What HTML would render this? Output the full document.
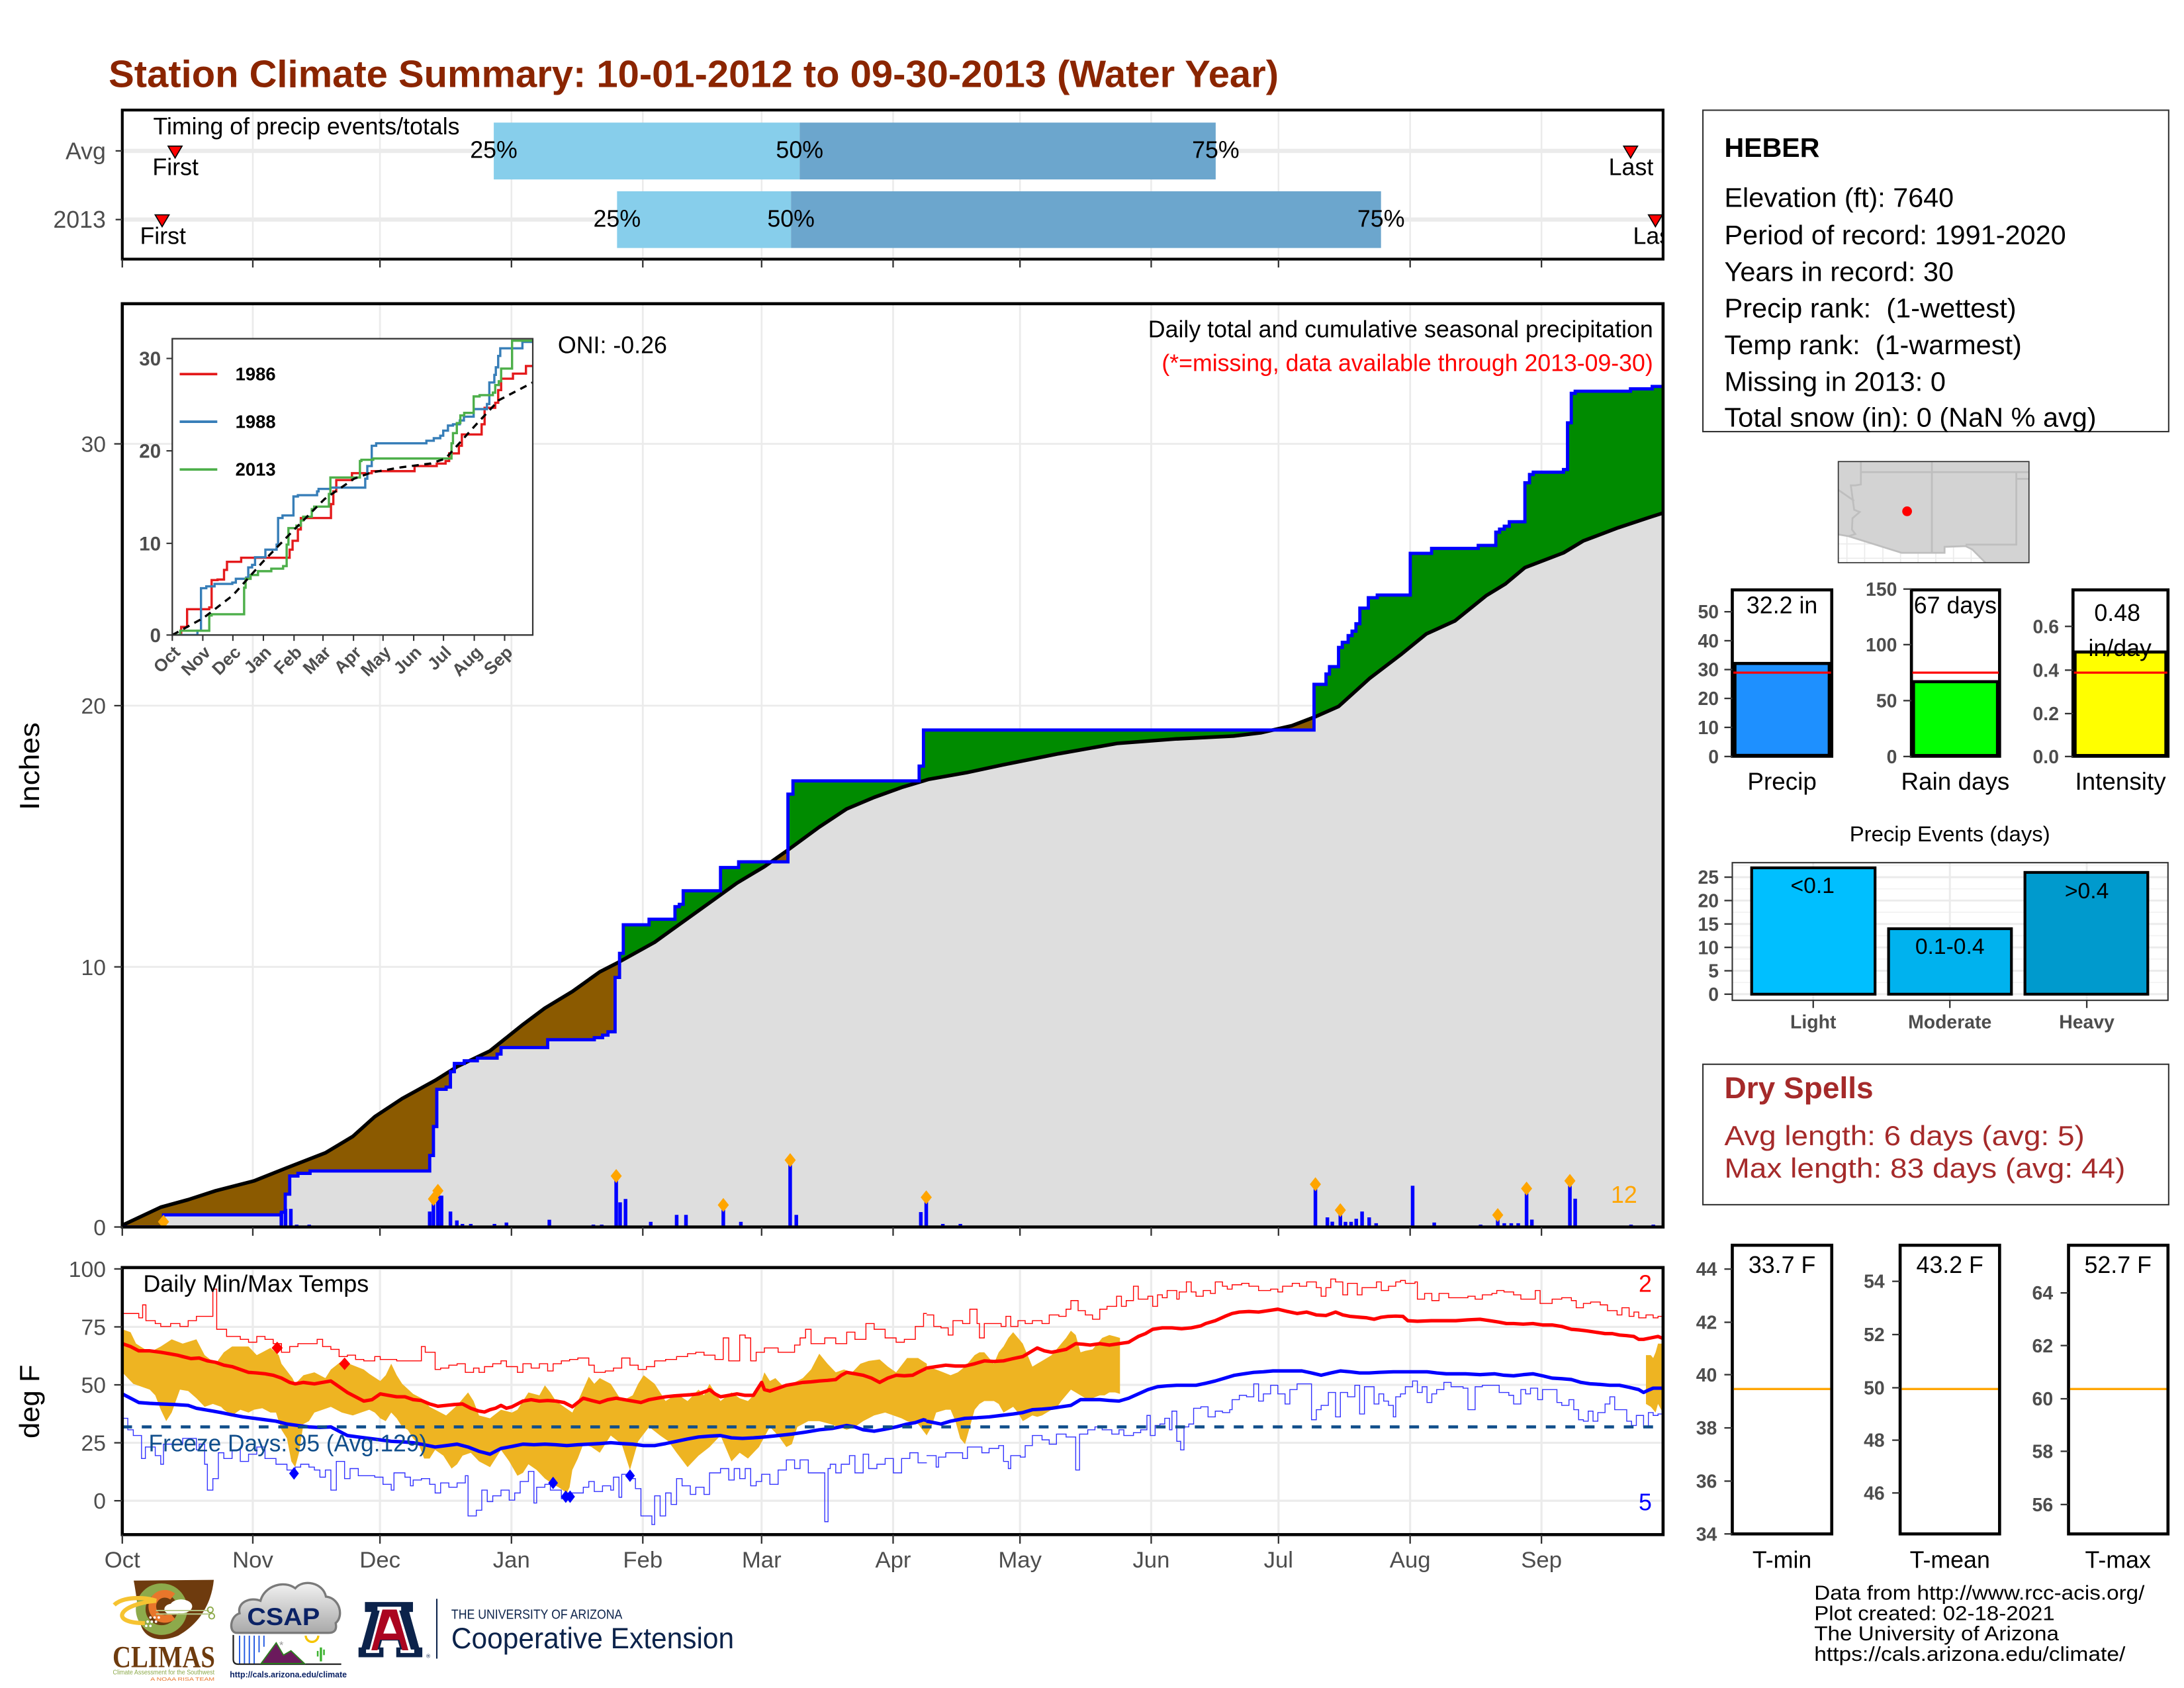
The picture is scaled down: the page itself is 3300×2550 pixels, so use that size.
<!DOCTYPE html>
<html><head><meta charset="utf-8"><title>Station Climate Summary</title>
<style>html,body{margin:0;padding:0;background:#fff;overflow:hidden}svg{display:block}</style></head>
<body>
<svg xmlns="http://www.w3.org/2000/svg" width="3300" height="2550" viewBox="0 0 1568 1211.6" preserveAspectRatio="none" font-family="'Liberation Sans', Arial, Helvetica, sans-serif">
<defs>
<clipPath id="cTiming"><rect x="87.8" y="79" width="1106.2" height="107"/></clipPath>
<clipPath id="cPrecip"><rect x="87.8" y="218" width="1106.2" height="662.7"/></clipPath>
<clipPath id="cTemp"><rect x="87.8" y="909.8" width="1106.2" height="191.7"/></clipPath>
<clipPath id="cInset"><rect x="123.7" y="243.1" width="258.8" height="212.7"/></clipPath>
<clipPath id="cMap"><rect x="1319.8" y="331.3" width="136.9" height="72.6"/></clipPath>
<clipPath id="cMex"><path d="M1319.8,383.6 L1327.2,384.9 L1365.3,396.8 L1396.1,396.8 L1396.1,392.5 L1411.2,392 L1416,394.4 L1425.5,403.9 L1319.8,403.9 Z"/></clipPath>
<clipPath id="c13"><path d="M87.8,880.7 H117.4 V872 H202 V870.1 H204.8 V857.1 H208 V844.1 H213.9 V842.2 H222.6 V840.5 H308.5 V829.4 H311.2 V808.6 H313.6 V781.9 H320.3 V780.3 H323.4 V769.2 H326.2 V763.3 H333.3 V761.4 H342.7 V759.5 H356.9 V756.6 H359.7 V751.9 H393.2 V746.3 H426.7 V744.8 H432.6 V743 H436.5 V740.6 H441.6 V738.9 V701.6 H444.8 V684.3 H447.5 V663.8 H466 V659.8 H484.6 V650.8 H487.7 V649.1 H490.5 V639.4 H517.3 V622.7 H530.3 V618.6 H565.7 V570 H569.3 V560.5 H659.9 V549.9 H663 V524 H943.4 V491.2 H952 V483.8 H954.5 V478.5 H961 V464.7 H963.7 V461 H967.9 V456.2 H970.7 V453 H973.5 V447.7 H976.3 V436.5 H982.4 V429 H988.8 V427.1 H1012.5 V397.2 H1027.8 V393.6 H1061.3 V391.5 H1073.9 V382 H1076.6 V379.8 H1080 V377.7 H1083.6 V374.5 H1094.8 V346.5 H1098.1 V340.6 H1100.8 V338.9 H1122.5 V337 H1125.4 V303.5 H1128.1 V282.3 H1130.9 V280.8 H1170.6 V279.1 H1186.2 V277.4 H1194 V880.7 Z"/></clipPath>
<linearGradient id="cloudG" x1="0" y1="0" x2="0" y2="1"><stop offset="0" stop-color="#f2f2f2"/><stop offset="1" stop-color="#a9a9a9"/></linearGradient>
</defs>

<rect x="0" y="0" width="1568" height="1211.6" fill="#fff"/>

<!-- Title -->
<text x="78" y="62.6" font-size="27.5" font-weight="bold" fill="#8B2500" textLength="840" lengthAdjust="spacingAndGlyphs">Station Climate Summary: 10-01-2012 to 09-30-2013 (Water Year)</text>

<!-- ================= Timing panel ================= -->
<rect x="87.8" y="79" width="1106.2" height="107" fill="#fff"/>
<g stroke="#EBEBEB" stroke-width="1.2">
<line x1="181.5" y1="79" x2="181.5" y2="186"/><line x1="272.8" y1="79" x2="272.8" y2="186"/><line x1="367.2" y1="79" x2="367.2" y2="186"/><line x1="461.5" y1="79" x2="461.5" y2="186"/><line x1="546.8" y1="79" x2="546.8" y2="186"/><line x1="641.2" y1="79" x2="641.2" y2="186"/><line x1="732.3" y1="79" x2="732.3" y2="186"/><line x1="826.5" y1="79" x2="826.5" y2="186"/><line x1="917.9" y1="79" x2="917.9" y2="186"/><line x1="1012.4" y1="79" x2="1012.4" y2="186"/><line x1="1106.7" y1="79" x2="1106.7" y2="186"/>
</g>
<line x1="87.8" y1="108.3" x2="1194" y2="108.3" stroke="#EBEBEB" stroke-width="3"/>
<line x1="87.8" y1="157.6" x2="1194" y2="157.6" stroke="#EBEBEB" stroke-width="3"/>
<rect x="354.5" y="88" width="219.6" height="40.8" fill="#87CEEB"/>
<rect x="574.1" y="88" width="298.7" height="40.8" fill="#6CA6CD"/>
<rect x="443" y="137.3" width="124.9" height="40.7" fill="#87CEEB"/>
<rect x="567.9" y="137.3" width="423.6" height="40.7" fill="#6CA6CD"/>
<g font-size="17" text-anchor="middle" fill="#000">
<text x="354.5" y="113.4">25%</text><text x="574.1" y="113.4">50%</text><text x="872.8" y="113.4">75%</text>
<text x="443" y="162.7">25%</text><text x="567.9" y="162.7">50%</text><text x="991.5" y="162.7">75%</text>
<text x="126" y="125.7">First</text><text x="117" y="175">First</text><text x="1171" y="125.7">Last</text>
</g>
<g clip-path="url(#cTiming)">
<text x="1188.5" y="175" font-size="17" text-anchor="middle">Last</text>
<polygon points="1183.5,154.2 1193.5,154.2 1188.5,162.7" fill="#FF0000" stroke="#000" stroke-width="0.8"/>
</g>
<polygon points="120.7,104.9 130.7,104.9 125.7,113.4" fill="#FF0000" stroke="#000" stroke-width="0.8"/>
<polygon points="1165.7,104.9 1175.7,104.9 1170.7,113.4" fill="#FF0000" stroke="#000" stroke-width="0.8"/>
<polygon points="111.4,154.2 121.4,154.2 116.4,162.7" fill="#FF0000" stroke="#000" stroke-width="0.8"/>
<text x="110" y="96.4" font-size="17" textLength="220" lengthAdjust="spacingAndGlyphs">Timing of precip events/totals</text>
<rect x="87.8" y="79" width="1106.2" height="107" fill="none" stroke="#000" stroke-width="2"/>
<g stroke="#333" stroke-width="1.1">
<line x1="83" y1="108.3" x2="87.8" y2="108.3"/><line x1="83" y1="157.6" x2="87.8" y2="157.6"/>
<line x1="87.8" y1="186" x2="87.8" y2="192"/><line x1="181.5" y1="186" x2="181.5" y2="192"/><line x1="272.8" y1="186" x2="272.8" y2="192"/><line x1="367.2" y1="186" x2="367.2" y2="192"/><line x1="461.5" y1="186" x2="461.5" y2="192"/><line x1="546.8" y1="186" x2="546.8" y2="192"/><line x1="641.2" y1="186" x2="641.2" y2="192"/><line x1="732.3" y1="186" x2="732.3" y2="192"/><line x1="826.5" y1="186" x2="826.5" y2="192"/><line x1="917.9" y1="186" x2="917.9" y2="192"/><line x1="1012.4" y1="186" x2="1012.4" y2="192"/><line x1="1106.7" y1="186" x2="1106.7" y2="192"/>
</g>
<text x="76" y="114.2" font-size="17" text-anchor="end" fill="#4D4D4D">Avg</text>
<text x="76" y="163.4" font-size="17" text-anchor="end" fill="#4D4D4D">2013</text>

<!-- ================= Precip panel ================= -->
<rect x="87.8" y="218" width="1106.2" height="662.7" fill="#fff"/>
<g stroke="#EBEBEB" stroke-width="1.3">
<line x1="181.5" y1="218" x2="181.5" y2="880.7"/><line x1="272.8" y1="218" x2="272.8" y2="880.7"/><line x1="367.2" y1="218" x2="367.2" y2="880.7"/><line x1="461.5" y1="218" x2="461.5" y2="880.7"/><line x1="546.8" y1="218" x2="546.8" y2="880.7"/><line x1="641.2" y1="218" x2="641.2" y2="880.7"/><line x1="732.3" y1="218" x2="732.3" y2="880.7"/><line x1="826.5" y1="218" x2="826.5" y2="880.7"/><line x1="917.9" y1="218" x2="917.9" y2="880.7"/><line x1="1012.4" y1="218" x2="1012.4" y2="880.7"/><line x1="1106.7" y1="218" x2="1106.7" y2="880.7"/>
<line x1="87.8" y1="694" x2="1194" y2="694"/><line x1="87.8" y1="506.5" x2="1194" y2="506.5"/><line x1="87.8" y1="318.6" x2="1194" y2="318.6"/>
</g>
<g clip-path="url(#cPrecip)">
<!-- green: area under 2013 -->
<path fill="#008B00" d="M87.8,880.7 H117.4 V872 H202 V870.1 H204.8 V857.1 H208 V844.1 H213.9 V842.2 H222.6 V840.5 H308.5 V829.4 H311.2 V808.6 H313.6 V781.9 H320.3 V780.3 H323.4 V769.2 H326.2 V763.3 H333.3 V761.4 H342.7 V759.5 H356.9 V756.6 H359.7 V751.9 H393.2 V746.3 H426.7 V744.8 H432.6 V743 H436.5 V740.6 H441.6 V738.9 V701.6 H444.8 V684.3 H447.5 V663.8 H466 V659.8 H484.6 V650.8 H487.7 V649.1 H490.5 V639.4 H517.3 V622.7 H530.3 V618.6 H565.7 V570 H569.3 V560.5 H659.9 V549.9 H663 V524 H943.4 V491.2 H952 V483.8 H954.5 V478.5 H961 V464.7 H963.7 V461 H967.9 V456.2 H970.7 V453 H973.5 V447.7 H976.3 V436.5 H982.4 V429 H988.8 V427.1 H1012.5 V397.2 H1027.8 V393.6 H1061.3 V391.5 H1073.9 V382 H1076.6 V379.8 H1080 V377.7 H1083.6 V374.5 H1094.8 V346.5 H1098.1 V340.6 H1100.8 V338.9 H1122.5 V337 H1125.4 V303.5 H1128.1 V282.3 H1130.9 V280.8 H1170.6 V279.1 H1186.2 V277.4 H1194 V880.7 Z"/>
<!-- brown: area under avg -->
<path id="avgArea" fill="#8B5A00" d="M87.8,880.7 L87.8,879.5 115.4,866.5 135.1,861.1 154.8,854.7 182.4,847.6 206,838.2 233.6,827.5 253.3,815.7 269.1,801.5 288.8,788.5 312.4,775.5 328.2,765.6 351.8,754.3 375.4,735.4 391.2,723.6 410.9,711.7 430.6,697.6 444.4,690.5 470,676.3 489.7,662.1 509.4,648 529.1,633.8 548.8,622 565.7,610.1 588.2,593.6 607.9,580.6 627.6,572.3 647.3,565.2 667,559.3 693.8,554.6 720,549 760,541 802,533.6 843.8,530.4 885.7,528.3 905,526 927.5,520.9 944.2,514.5 961,507.1 983.2,487 1005.5,470 1024,455 1044.6,445.6 1066.9,427.6 1080.8,419.1 1094.8,407.4 1122.5,396.8 1136.6,388.3 1161.7,378.8 1184,371.4 1194,368.2 L1194,880.7 Z"/>
<!-- gray: under min -->
<path clip-path="url(#c13)" fill="#DEDEDE" d="M87.8,880.7 L87.8,879.5 115.4,866.5 135.1,861.1 154.8,854.7 182.4,847.6 206,838.2 233.6,827.5 253.3,815.7 269.1,801.5 288.8,788.5 312.4,775.5 328.2,765.6 351.8,754.3 375.4,735.4 391.2,723.6 410.9,711.7 430.6,697.6 444.4,690.5 470,676.3 489.7,662.1 509.4,648 529.1,633.8 548.8,622 565.7,610.1 588.2,593.6 607.9,580.6 627.6,572.3 647.3,565.2 667,559.3 693.8,554.6 720,549 760,541 802,533.6 843.8,530.4 885.7,528.3 905,526 927.5,520.9 944.2,514.5 961,507.1 983.2,487 1005.5,470 1024,455 1044.6,445.6 1066.9,427.6 1080.8,419.1 1094.8,407.4 1122.5,396.8 1136.6,388.3 1161.7,378.8 1184,371.4 1194,368.2 L1194,880.7 Z"/>
<!-- daily bars -->
<g fill="#0000FF">
<rect x="116.1" y="878" width="2.6" height="2.7"/>
<rect x="200.7" y="870" width="2.6" height="10.7"/><rect x="203.7" y="867.7" width="2.6" height="13"/><rect x="207.5" y="867.7" width="2.6" height="13"/><rect x="211.7" y="879" width="2.6" height="1.7"/><rect x="220.7" y="879" width="2.6" height="1.7"/>
<rect x="307.2" y="869.6" width="2.6" height="11.1"/><rect x="309.9" y="860.6" width="2.6" height="20.1"/><rect x="313.1" y="855.9" width="2.6" height="24.8"/><rect x="315.7" y="858.2" width="2.6" height="22.5"/><rect x="322.1" y="869.6" width="2.6" height="11.1"/><rect x="326.7" y="876" width="2.6" height="4.7"/><rect x="330.7" y="878.5" width="2.6" height="2.2"/><rect x="336.7" y="878.5" width="2.6" height="2.2"/>
<rect x="353.7" y="878.5" width="2.6" height="2.2"/><rect x="362.3" y="877.5" width="2.6" height="3.2"/>
<rect x="393.1" y="875.5" width="2.6" height="5.2"/>
<rect x="424.7" y="879" width="2.6" height="1.7"/><rect x="430.7" y="879" width="2.6" height="1.7"/>
<rect x="441.1" y="844.1" width="2.6" height="36.6"/><rect x="443.9" y="863" width="2.6" height="17.7"/><rect x="447.8" y="860.6" width="2.6" height="20.1"/>
<rect x="465.9" y="877" width="2.6" height="3.7"/>
<rect x="484.5" y="872" width="2.6" height="8.7"/><rect x="491.2" y="872" width="2.6" height="8.7"/>
<rect x="518" y="864.9" width="2.6" height="15.8"/>
<rect x="530.6" y="877" width="2.6" height="3.7"/>
<rect x="566" y="832.7" width="2.6" height="48"/><rect x="570.4" y="872" width="2.6" height="8.7"/>
<rect x="659.8" y="870" width="2.6" height="10.7"/><rect x="663.7" y="859.4" width="2.6" height="21.3"/>
<rect x="675.6" y="878.5" width="2.6" height="2.2"/><rect x="688.2" y="878.5" width="2.6" height="2.2"/>
<rect x="943.1" y="852.1" width="2.6" height="28.6"/><rect x="951.7" y="873.8" width="2.6" height="6.9"/><rect x="955.2" y="876.9" width="2.6" height="3.8"/><rect x="961" y="870.7" width="2.6" height="10"/><rect x="964.7" y="877" width="2.6" height="3.7"/><rect x="968.7" y="877" width="2.6" height="3.7"/><rect x="972.4" y="874.8" width="2.6" height="5.9"/><rect x="976.6" y="869.6" width="2.6" height="11.1"/><rect x="981.7" y="873.8" width="2.6" height="6.9"/><rect x="986.7" y="878" width="2.6" height="2.7"/>
<rect x="1012.9" y="851.1" width="2.6" height="29.6"/><rect x="1028.4" y="877.5" width="2.6" height="3.2"/><rect x="1061.7" y="879" width="2.6" height="1.7"/><rect x="1074" y="874.8" width="2.6" height="5.9"/><rect x="1078.7" y="878" width="2.6" height="2.7"/><rect x="1083.7" y="878" width="2.6" height="2.7"/><rect x="1088.7" y="878" width="2.6" height="2.7"/><rect x="1094.7" y="856.2" width="2.6" height="24.5"/><rect x="1098.5" y="875.4" width="2.6" height="5.3"/><rect x="1125.8" y="851.1" width="2.6" height="29.6"/><rect x="1129.6" y="860.4" width="2.6" height="20.3"/><rect x="1169.7" y="879" width="2.6" height="1.7"/><rect x="1185.7" y="879" width="2.6" height="1.7"/>
</g>
<!-- avg line -->
<polyline fill="none" stroke="#000" stroke-width="2.6" stroke-linejoin="round" points="87.8,879.5 115.4,866.5 135.1,861.1 154.8,854.7 182.4,847.6 206,838.2 233.6,827.5 253.3,815.7 269.1,801.5 288.8,788.5 312.4,775.5 328.2,765.6 351.8,754.3 375.4,735.4 391.2,723.6 410.9,711.7 430.6,697.6 444.4,690.5 470,676.3 489.7,662.1 509.4,648 529.1,633.8 548.8,622 565.7,610.1 588.2,593.6 607.9,580.6 627.6,572.3 647.3,565.2 667,559.3 693.8,554.6 720,549 760,541 802,533.6 843.8,530.4 885.7,528.3 905,526 927.5,520.9 944.2,514.5 961,507.1 983.2,487 1005.5,470 1024,455 1044.6,445.6 1066.9,427.6 1080.8,419.1 1094.8,407.4 1122.5,396.8 1136.6,388.3 1161.7,378.8 1184,371.4 1194,368.2"/>
<!-- 2013 line -->
<path fill="none" stroke="#0000FF" stroke-width="2.3" d="M87.8,880.7 H117.4 V872 H202 V870.1 H204.8 V857.1 H208 V844.1 H213.9 V842.2 H222.6 V840.5 H308.5 V829.4 H311.2 V808.6 H313.6 V781.9 H320.3 V780.3 H323.4 V769.2 H326.2 V763.3 H333.3 V761.4 H342.7 V759.5 H356.9 V756.6 H359.7 V751.9 H393.2 V746.3 H426.7 V744.8 H432.6 V743 H436.5 V740.6 H441.6 V738.9 V701.6 H444.8 V684.3 H447.5 V663.8 H466 V659.8 H484.6 V650.8 H487.7 V649.1 H490.5 V639.4 H517.3 V622.7 H530.3 V618.6 H565.7 V570 H569.3 V560.5 H659.9 V549.9 H663 V524 H943.4 V491.2 H952 V483.8 H954.5 V478.5 H961 V464.7 H963.7 V461 H967.9 V456.2 H970.7 V453 H973.5 V447.7 H976.3 V436.5 H982.4 V429 H988.8 V427.1 H1012.5 V397.2 H1027.8 V393.6 H1061.3 V391.5 H1073.9 V382 H1076.6 V379.8 H1080 V377.7 H1083.6 V374.5 H1094.8 V346.5 H1098.1 V340.6 H1100.8 V338.9 H1122.5 V337 H1125.4 V303.5 H1128.1 V282.3 H1130.9 V280.8 H1170.6 V279.1 H1186.2 V277.4 H1194"/>
<!-- diamonds -->
<g fill="#FFA500">
<path d="M117.4,872 l4,5 l-4,5 l-4,-5 z"/><path d="M311.2,855.6 l4,5 l-4,5 l-4,-5 z"/><path d="M314.4,849.7 l4,5 l-4,5 l-4,-5 z"/><path d="M442.4,839.1 l4,5 l-4,5 l-4,-5 z"/><path d="M519.3,859.9 l4,5 l-4,5 l-4,-5 z"/><path d="M567.3,827.7 l4,5 l-4,5 l-4,-5 z"/><path d="M665,854.4 l4,5 l-4,5 l-4,-5 z"/><path d="M944.4,845 l4,5 l-4,5 l-4,-5 z"/><path d="M962.3,863.6 l4,5 l-4,5 l-4,-5 z"/><path d="M1075.3,867.1 l4,5 l-4,5 l-4,-5 z"/><path d="M1096,848.1 l4,5 l-4,5 l-4,-5 z"/><path d="M1127.1,842.6 l4,5 l-4,5 l-4,-5 z"/>
</g>
</g>
<text x="1186.8" y="242" font-size="17" text-anchor="end" textLength="362.5" lengthAdjust="spacingAndGlyphs">Daily total and cumulative seasonal precipitation</text>
<text x="1186.8" y="266.4" font-size="17" text-anchor="end" fill="#FF0000" textLength="352.7" lengthAdjust="spacingAndGlyphs">(*=missing, data available through 2013-09-30)</text>
<text x="400.5" y="253.6" font-size="17">ONI: -0.26</text>
<text x="1156.5" y="863.4" font-size="17" fill="#FFA500">12</text>

<!-- Inset -->
<rect x="123.7" y="243.1" width="258.8" height="212.7" fill="#fff" stroke="#333" stroke-width="1"/>
<g clip-path="url(#cInset)">
<g transform="translate(76,209.1) scale(0.2121,0.1818)" fill="none">
<path vector-effect="non-scaling-stroke" stroke="#E41A1C" stroke-width="3.4" d="M225,1357 H255 V1325 H275 V1255 H350 V1248 H358 V1140 H378 V1138 H400 V1100 H410 V1068 H458 V1052 H622 V1020 H632 V985 H650 V940 H660 V895 H762 V840 H770 V790 H780 V745 H833 V718 H900 V710 H1045 V690 H1120 V680 H1150 V670 H1162 V640 H1195 V610 H1205 V565 H1272 V525 H1282 V460 H1318 V440 H1328 V390 H1338 V345 H1378 V325 H1422 V295 H1450"/>
<path vector-effect="non-scaling-stroke" stroke="#377EB8" stroke-width="3.4" d="M225,1357 H310 V1340 H322 V1172 H340 V1165 H368 V1155 H428 V1150 H440 V1135 H475 V1130 H482 V1090 H495 V1080 H505 V1050 H540 V1020 H578 V1000 H583 V895 H598 V885 H635 V810 H650 V805 H715 V790 H720 V780 H760 V775 H878 V740 H885 V690 H900 V610 H915 V600 H1085 V590 H1110 V580 H1132 V570 H1142 V550 H1158 V530 H1175 V525 H1198 V510 H1212 V495 H1245 V465 H1290 V445 H1298 V360 H1315 V330 H1320 V300 H1328 V255 H1335 V225 H1410 V200 H1450"/>
<path vector-effect="non-scaling-stroke" stroke="#4DAF4A" stroke-width="3.4" d="M225,1357 H252 V1340 H350 V1280 H358 V1275 H468 V1170 H473 V1135 H490 V1120 H515 V1105 H560 V1095 H600 V1085 H612 V1000 H618 V935 H645 V925 H660 V905 H668 V890 H697 V860 H705 V850 H755 V800 H760 V735 H860 V670 H865 V665 H905 V660 H1170 V600 H1175 V560 H1188 V520 H1200 V490 H1213 V480 H1245 V415 H1265 V410 H1310 V400 H1318 V370 H1330 V355 H1338 V305 H1375 V195 H1450"/>
</g>
<polyline fill="none" stroke="#000" stroke-width="1.6" stroke-dasharray="5,4" points="123.7,455.8 146,443.6 167.2,427.3 188.4,403.6 209.6,381.8 233,358.2 254.2,343.6 266.9,339.1 288.1,335.4 309.3,332.7 319.9,329.1 341.1,305.5 358.1,287.3 382.5,274.5"/>
</g>
<rect x="123.7" y="243.1" width="258.8" height="212.7" fill="none" stroke="#333" stroke-width="1"/>
<line x1="129" y1="268.5" x2="156" y2="268.5" stroke="#E41A1C" stroke-width="1.8"/>
<line x1="129" y1="302.7" x2="156" y2="302.7" stroke="#377EB8" stroke-width="1.8"/>
<line x1="129" y1="337" x2="156" y2="337" stroke="#4DAF4A" stroke-width="1.8"/>
<g font-size="13" font-weight="bold"><text x="169" y="273">1986</text><text x="169" y="307.2">1988</text><text x="169" y="341.5">2013</text></g>
<g stroke="#333" stroke-width="1">
<line x1="119.5" y1="257.3" x2="123.7" y2="257.3"/><line x1="119.5" y1="323.6" x2="123.7" y2="323.6"/><line x1="119.5" y1="390" x2="123.7" y2="390"/><line x1="119.5" y1="455.8" x2="123.7" y2="455.8"/>
<line x1="123.7" y1="455.8" x2="123.7" y2="460"/><line x1="145.6" y1="455.8" x2="145.6" y2="460"/><line x1="167.2" y1="455.8" x2="167.2" y2="460"/><line x1="189.1" y1="455.8" x2="189.1" y2="460"/><line x1="211.1" y1="455.8" x2="211.1" y2="460"/><line x1="231.9" y1="455.8" x2="231.9" y2="460"/><line x1="253.8" y1="455.8" x2="253.8" y2="460"/><line x1="275" y1="455.8" x2="275" y2="460"/><line x1="297" y1="455.8" x2="297" y2="460"/><line x1="318.4" y1="455.8" x2="318.4" y2="460"/><line x1="340.5" y1="455.8" x2="340.5" y2="460"/><line x1="362.3" y1="455.8" x2="362.3" y2="460"/>
</g>
<g font-size="14" font-weight="bold" fill="#4D4D4D" text-anchor="end">
<text x="115.5" y="262.3">30</text><text x="115.5" y="328.6">20</text><text x="115.5" y="395">10</text><text x="115.5" y="460.8">0</text>
</g>
<g font-size="12.5" font-weight="bold" fill="#4D4D4D" text-anchor="end">
<text transform="translate(130.1,469) rotate(-45)">Oct</text>
<text transform="translate(152,469) rotate(-45)">Nov</text>
<text transform="translate(173.6,469) rotate(-45)">Dec</text>
<text transform="translate(195.5,469) rotate(-45)">Jan</text>
<text transform="translate(217.5,469) rotate(-45)">Feb</text>
<text transform="translate(238.3,469) rotate(-45)">Mar</text>
<text transform="translate(260.2,469) rotate(-45)">Apr</text>
<text transform="translate(281.4,469) rotate(-45)">May</text>
<text transform="translate(303.4,469) rotate(-45)">Jun</text>
<text transform="translate(324.8,469) rotate(-45)">Jul</text>
<text transform="translate(346.9,469) rotate(-45)">Aug</text>
<text transform="translate(368.7,469) rotate(-45)">Sep</text>
</g>

<rect x="87.8" y="218" width="1106.2" height="662.7" fill="none" stroke="#000" stroke-width="2.2"/>
<g stroke="#333" stroke-width="1.1">
<line x1="82" y1="880.7" x2="87.8" y2="880.7"/><line x1="82" y1="694" x2="87.8" y2="694"/><line x1="82" y1="506.5" x2="87.8" y2="506.5"/><line x1="82" y1="318.6" x2="87.8" y2="318.6"/>
<line x1="87.8" y1="880.7" x2="87.8" y2="887"/><line x1="181.5" y1="880.7" x2="181.5" y2="887"/><line x1="272.8" y1="880.7" x2="272.8" y2="887"/><line x1="367.2" y1="880.7" x2="367.2" y2="887"/><line x1="461.5" y1="880.7" x2="461.5" y2="887"/><line x1="546.8" y1="880.7" x2="546.8" y2="887"/><line x1="641.2" y1="880.7" x2="641.2" y2="887"/><line x1="732.3" y1="880.7" x2="732.3" y2="887"/><line x1="826.5" y1="880.7" x2="826.5" y2="887"/><line x1="917.9" y1="880.7" x2="917.9" y2="887"/><line x1="1012.4" y1="880.7" x2="1012.4" y2="887"/><line x1="1106.7" y1="880.7" x2="1106.7" y2="887"/>
</g>
<g font-size="16" fill="#4D4D4D" text-anchor="end">
<text x="76" y="886.5">0</text><text x="76" y="699.8">10</text><text x="76" y="512.3">20</text><text x="76" y="324.4">30</text>
</g>
<text transform="translate(28,550) rotate(-90)" font-size="20" text-anchor="middle" textLength="63" lengthAdjust="spacingAndGlyphs">Inches</text>

<!-- ================= Temperature panel ================= -->
<rect x="87.8" y="909.8" width="1106.2" height="191.7" fill="#fff"/>
<g stroke="#EBEBEB" stroke-width="1.5">
<line x1="181.5" y1="909.8" x2="181.5" y2="1101.5"/><line x1="272.8" y1="909.8" x2="272.8" y2="1101.5"/><line x1="367.2" y1="909.8" x2="367.2" y2="1101.5"/><line x1="461.5" y1="909.8" x2="461.5" y2="1101.5"/><line x1="546.8" y1="909.8" x2="546.8" y2="1101.5"/><line x1="641.2" y1="909.8" x2="641.2" y2="1101.5"/><line x1="732.3" y1="909.8" x2="732.3" y2="1101.5"/><line x1="826.5" y1="909.8" x2="826.5" y2="1101.5"/><line x1="917.9" y1="909.8" x2="917.9" y2="1101.5"/><line x1="1012.4" y1="909.8" x2="1012.4" y2="1101.5"/><line x1="1106.7" y1="909.8" x2="1106.7" y2="1101.5"/>
<line x1="87.8" y1="1077.2" x2="1194" y2="1077.2"/><line x1="87.8" y1="1035.6" x2="1194" y2="1035.6"/><line x1="87.8" y1="994" x2="1194" y2="994"/><line x1="87.8" y1="952.4" x2="1194" y2="952.4"/><line x1="87.8" y1="910.8" x2="1194" y2="910.8"/>
</g>
<g clip-path="url(#cTemp)">
<g transform="translate(76,807.8) scale(0.394,0.2061)">
<polygon fill="#EEB422" points="30,710 45,720 55,760 80,790 100,770 120,745 140,760 165,745 180,800 200,830 215,790 230,770 260,770 275,800 285,790 300,775 315,800 320,830 340,880 345,900 360,870 380,860 400,880 410,850 430,820 450,835 470,850 480,865 500,890 510,870 520,830 530,870 540,900 560,935 575,950 590,980 610,1000 620,1010 640,975 660,930 670,960 680,1010 700,1020 720,990 740,1000 750,990 770,930 790,940 800,905 810,930 820,960 835,980 850,1000 865,940 880,875 890,900 900,880 920,900 940,960 960,940 970,900 980,870 1000,900 1010,930 1020,960 1040,935 1060,960 1080,920 1090,940 1100,900 1120,960 1140,930 1155,950 1170,960 1190,920 1200,860 1210,890 1220,880 1235,910 1250,900 1270,880 1285,850 1300,795 1315,830 1330,860 1345,850 1360,860 1375,830 1390,820 1410,815 1425,840 1440,860 1460,810 1480,810 1496,830 1496,1080 1480,1040 1460,1030 1450,1020 1420,1000 1400,1010 1380,1030 1365,1050 1350,1060 1320,1040 1300,1030 1280,1030 1260,1050 1250,1110 1240,1120 1225,1080 1210,1050 1190,1120 1170,1160 1155,1140 1140,1170 1120,1080 1100,1120 1080,1150 1060,1190 1040,1140 1025,1100 1010,1080 990,1050 970,1100 955,1200 940,1110 920,1080 900,1140 885,1120 870,1110 860,1160 850,1200 845,1260 840,1280 825,1260 815,1250 800,1230 785,1200 770,1180 760,1210 750,1220 735,1170 720,1130 710,1160 700,1190 680,1170 665,1140 650,1150 640,1180 630,1195 615,1150 600,1130 590,1160 580,1160 570,1110 560,1090 550,1060 540,1050 530,1020 520,1000 510,1030 500,1020 490,1000 480,990 465,1000 450,1010 430,1000 410,980 395,990 380,1000 370,1030 360,1040 352,1140 345,1190 338,1170 330,1090 320,1060 310,1000 300,1000 285,985 270,990 260,1000 245,990 230,1010 215,990 210,980 195,970 180,980 170,960 165,950 150,925 135,920 120,1000 110,1030 100,990 90,940 80,920 65,910 50,900 40,880 30,860"/>
<path fill="none" vector-effect="non-scaling-stroke" stroke="#FF0000" stroke-width="1.4" d="M30,655 H60 V670 H67 V625 H73 V680 H90 V690 H100 V700 H118 V690 H135 V700 H150 V680 H165 V665 H195 V570 H202 V710 H220 V735 H245 V745 H260 V755 H275 V735 H290 V745 H305 V760 H320 V790 H335 V770 H350 V760 H385 V745 H395 V770 H410 V780 H425 V805 H440 V800 H455 V815 H470 V820 H490 V805 H500 V815 H530 V820 H575 V770 H582 V790 H600 V850 H610 V845 H625 V835 H640 V830 H655 V860 H670 V845 H680 V860 H690 V840 H705 V830 H720 V820 H730 V840 H750 V860 H760 V830 H775 V845 H790 V830 H805 V855 H815 V830 H830 V820 H845 V815 H860 V810 H880 V835 H890 V860 H910 V855 H925 V845 H940 V810 H955 V835 H970 V850 H985 V840 H1000 V820 H1020 V815 H1040 V805 H1060 V795 H1075 V790 H1090 V800 H1110 V815 H1125 V740 H1135 V820 H1145 V820 H1155 V730 H1165 V740 H1175 V820 H1185 V790 H1200 V775 H1225 V790 H1240 V790 H1255 V765 H1265 V740 H1275 V710 H1285 V760 H1310 V740 H1330 V760 H1350 V720 H1365 V745 H1385 V690 H1400 V710 H1420 V740 H1440 V755 H1455 V745 H1475 V700 H1490 V655 H1496"/>
<path fill="none" vector-effect="non-scaling-stroke" stroke="#3333FF" stroke-width="1.4" d="M30,1020 H40 V1060 H50 V1080 H65 V1160 H72 V1120 H90 V1150 H100 V1180 H105 V1110 H140 V1090 H165 V1130 H170 V1110 H180 V1180 H185 V1270 H195 V1230 H205 V1140 H215 V1160 H230 V1130 H245 V1170 H260 V1145 H275 V1120 H290 V1160 H310 V1180 H330 V1200 H345 V1190 H355 V1180 H370 V1190 H380 V1200 H390 V1225 H400 V1200 H410 V1270 H420 V1170 H435 V1230 H445 V1195 H460 V1220 H490 V1225 H505 V1250 H520 V1270 H525 V1210 H545 V1225 H555 V1255 H560 V1235 H575 V1230 H590 V1250 H600 V1280 H610 V1245 H625 V1260 H640 V1245 H655 V1220 H660 V1360 H675 V1340 H685 V1270 H695 V1310 H705 V1290 H720 V1270 H735 V1305 H745 V1280 H755 V1240 H770 V1205 H780 V1315 H785 V1260 H800 V1250 H810 V1270 H830 V1300 H840 V1280 H855 V1280 H870 V1260 H880 V1240 H890 V1275 H905 V1255 H920 V1270 H925 V1225 H935 V1295 H940 V1215 H955 V1230 H965 V1265 H975 V1360 H985 V1360 H995 V1390 H1000 V1290 H1010 V1360 H1020 V1280 H1030 V1320 H1040 V1230 H1050 V1255 H1065 V1285 H1075 V1260 H1090 V1285 H1100 V1210 H1120 V1195 H1135 V1235 H1145 V1195 H1155 V1230 H1165 V1195 H1175 V1255 H1185 V1240 H1195 V1215 H1210 V1250 H1225 V1200 H1240 V1165 H1255 V1195 H1265 V1165 H1280 V1210 H1310 V1380 H1316 V1195 H1320 V1180 H1330 V1210 H1340 V1180 H1355 V1150 H1365 V1210 H1380 V1145 H1390 V1195 H1405 V1180 H1420 V1160 H1435 V1210 H1450 V1160 H1465 V1140 H1480 V1175 H1496"/>
<polyline fill="none" vector-effect="non-scaling-stroke" stroke="#FF0000" stroke-width="5.2" stroke-linejoin="round" points="30,760 45,770 60,785 80,785 100,790 115,795 130,800 140,805 155,812 170,810 185,820 200,825 215,835 230,840 245,850 260,860 275,862 290,865 305,870 320,880 335,895 345,900 360,895 380,900 395,895 410,890 425,910 440,930 455,945 470,960 485,955 500,935 515,940 530,945 545,945 560,955 575,958 590,970 605,978 620,975 635,972 650,970 665,985 680,995 690,998 700,990 710,985 720,975 730,985 740,980 750,970 760,960 775,955 790,960 805,958 820,960 835,965 850,980 860,965 870,950 885,958 900,965 915,955 930,950 945,955 960,960 975,965 990,955 1005,950 1020,945 1035,942 1050,940 1065,938 1080,935 1095,925 1100,920 1110,935 1120,945 1135,940 1150,935 1165,940 1180,940 1190,910 1195,895 1200,920 1210,925 1225,915 1240,905 1255,900 1270,895 1285,893 1300,890 1315,888 1330,885 1340,870 1350,860 1365,865 1380,870 1395,880 1410,895 1425,880 1440,870 1455,872 1470,870 1480,860 1496,845"/>
<polyline fill="none" vector-effect="non-scaling-stroke" stroke="#0000FF" stroke-width="5.2" stroke-linejoin="round" points="30,935 45,950 60,965 80,968 100,970 125,972 150,975 165,985 180,990 195,995 210,1000 230,1008 250,1015 270,1020 290,1025 310,1030 330,1040 350,1045 370,1050 390,1052 410,1050 425,1065 440,1080 460,1085 480,1090 500,1095 520,1100 540,1102 560,1105 580,1112 600,1120 620,1115 640,1110 660,1120 680,1135 690,1140 700,1145 710,1135 720,1125 740,1118 760,1110 780,1112 800,1110 820,1112 840,1115 860,1112 880,1110 900,1108 920,1105 940,1108 960,1110 980,1115 1000,1115 1020,1108 1040,1100 1060,1092 1080,1085 1100,1082 1120,1080 1140,1088 1160,1090 1180,1088 1200,1085 1225,1080 1250,1075 1275,1068 1300,1060 1325,1055 1350,1045 1365,1050 1380,1060 1400,1065 1420,1058 1440,1050 1460,1040 1475,1035 1490,1025 1496,1028"/>
</g>
<g transform="translate(665.2,807.8) scale(0.3455,0.2061)">
<polygon fill="#EEB422" points="0,840 10,845 20,850 35,860 50,870 65,860 80,840 90,820 100,800 110,790 120,790 130,810 140,830 150,790 160,770 170,740 180,720 190,740 200,760 210,800 220,840 230,830 240,820 250,810 260,800 270,780 280,760 290,740 300,715 310,730 320,790 330,785 345,780 355,760 365,740 380,730 392,735 402,740 402,935 392,930 380,930 370,940 360,940 345,950 340,960 330,950 320,940 310,930 300,920 290,940 280,960 270,985 260,990 250,1000 240,1010 230,1015 220,1010 210,1020 200,1030 190,1000 180,980 170,990 160,1000 150,970 140,960 130,960 120,960 110,970 100,990 90,1050 80,1110 70,1090 60,1030 50,990 40,990 30,995 20,1000 10,1050 0,1080"/>
<polygon fill="#EEB422" points="1495,800 1505,800 1510,810 1515,790 1520,760 1530,760 1530,1000 1520,970 1515,1000 1505,980 1495,970"/>
<path fill="none" vector-effect="non-scaling-stroke" stroke="#FF0000" stroke-width="1.4" d="M0,660 H15 V700 H30 V705 H45 V730 H55 V680 H75 V690 H90 V640 H105 V690 H110 V740 H120 V690 H155 V700 H165 V665 H175 V700 H190 V680 H205 V690 H220 V680 H240 V690 H255 V660 H275 V665 H290 V640 H300 V610 H315 V645 H330 V660 H345 V675 H360 V640 H375 V630 H395 V595 H405 V630 H415 V610 H430 V560 H440 V605 H460 V595 H470 V630 H480 V590 H490 V600 H500 V575 H520 V605 H525 V580 H540 V545 H550 V580 H560 V595 H575 V575 H590 V585 H600 V545 H615 V560 H625 V570 H635 V555 H655 V550 H670 V560 H690 V575 H715 V570 H730 V580 H740 V560 H760 V550 H775 V560 H790 V545 H810 V565 H820 V595 H830 V565 H840 V535 H850 V545 H865 V590 H875 V550 H895 V590 H905 V565 H935 V545 H945 V575 H960 V560 H975 V545 H985 V540 H995 V550 H1015 V545 H1020 V605 H1035 V585 H1050 V610 H1065 V585 H1085 V600 H1110 V600 H1125 V595 H1140 V605 H1155 V590 H1175 V585 H1185 V575 H1200 V580 H1220 V590 H1235 V605 H1265 V575 H1275 V620 H1285 V620 H1300 V605 H1320 V600 H1340 V610 H1350 V635 H1365 V620 H1380 V615 H1400 V625 H1415 V645 H1435 V660 H1445 V635 H1460 V665 H1470 V650 H1480 V670 H1495 V660 H1510 V670 H1520 V665 H1535"/>
<path fill="none" vector-effect="non-scaling-stroke" stroke="#3333FF" stroke-width="1.4" d="M0,1150 H20 V1190 H25 V1155 H40 V1140 H75 V1160 H85 V1120 H115 V1140 H130 V1125 H150 V1115 H160 V1170 H170 V1195 H175 V1150 H195 V1155 H205 V1115 H220 V1080 H240 V1095 H255 V1110 H270 V1075 H290 V1085 H305 V1085 H310 V1200 H318 V1075 H335 V1060 H350 V1050 H365 V1060 H385 V1075 H400 V1060 H410 V1080 H430 V1070 H445 V1060 H458 V1010 H465 V1080 H475 V1045 H485 V1040 H495 V1020 H505 V1060 H510 V995 H520 V1100 H528 V1130 H535 V1050 H545 V1040 H555 V985 H570 V980 H585 V1015 H600 V995 H615 V1000 H630 V990 H635 V955 H650 V940 H665 V945 H680 V900 H690 V960 H700 V935 H715 V905 H730 V935 H745 V970 H755 V920 H770 V900 H795 V900 H800 V1025 H810 V990 H820 V975 H835 V930 H850 V1015 H860 V930 H875 V945 H890 V905 H900 V1005 H910 V910 H930 V970 H940 V935 H950 V960 H960 V975 H970 V1015 H975 V945 H985 V935 H995 V910 H1010 V890 H1020 V930 H1030 V910 H1040 V965 H1050 V935 H1060 V920 H1075 V895 H1090 V910 H1100 V910 H1115 V915 H1125 V990 H1140 V910 H1155 V905 H1175 V905 H1190 V930 H1210 V940 H1220 V970 H1235 V920 H1245 V935 H1255 V915 H1270 V955 H1280 V920 H1295 V920 H1310 V965 H1320 V975 H1335 V955 H1345 V990 H1355 V1025 H1365 V1030 H1375 V995 H1385 V1030 H1395 V1000 H1410 V970 H1420 V945 H1430 V990 H1445 V990 H1455 V1030 H1465 V1045 H1475 V1010 H1490 V1050 H1500 V1000 H1510 V1010 H1520 V1005 H1535"/>
<polyline fill="none" vector-effect="non-scaling-stroke" stroke="#FF0000" stroke-width="5.2" stroke-linejoin="round" points="0,845 20,840 40,835 60,838 80,838 100,830 120,820 140,822 160,820 180,812 200,805 215,790 230,775 245,785 260,790 275,785 290,780 300,770 310,760 325,762 340,765 360,760 380,765 400,760 420,755 430,745 440,735 455,725 470,710 490,705 510,705 530,708 550,705 570,698 580,690 600,680 620,665 635,655 650,650 670,648 690,650 710,645 730,640 750,648 770,655 790,650 810,660 830,662 850,650 865,660 880,665 900,668 915,670 930,675 945,668 960,665 975,664 990,665 1000,680 1020,682 1050,680 1075,680 1100,680 1125,677 1150,675 1170,680 1190,685 1205,690 1220,690 1240,692 1260,690 1280,695 1300,695 1320,700 1340,710 1355,712 1370,715 1390,720 1410,725 1425,725 1440,730 1455,732 1470,735 1480,745 1490,745 1505,740 1520,735 1535,745"/>
<polyline fill="none" vector-effect="non-scaling-stroke" stroke="#0000FF" stroke-width="5.2" stroke-linejoin="round" points="0,1030 15,1035 30,1040 50,1030 80,1020 105,1018 130,1015 155,1010 180,1005 200,1000 220,990 240,988 260,985 280,980 300,975 310,965 320,955 340,955 360,955 380,958 400,960 420,950 440,935 460,920 480,910 500,907 520,905 540,905 560,905 580,898 600,890 620,880 640,870 660,865 680,860 700,858 720,855 750,855 780,855 800,862 820,870 840,862 860,855 880,858 900,862 920,862 940,860 970,858 1000,858 1040,858 1060,862 1080,865 1100,865 1120,865 1150,868 1180,865 1200,870 1220,872 1240,868 1260,865 1280,872 1300,880 1320,882 1340,885 1360,895 1380,900 1400,902 1420,905 1440,905 1460,912 1480,920 1490,930 1500,922 1510,915 1535,915"/>
</g>
<line x1="87.8" y1="1024.2" x2="1194" y2="1024.2" stroke="#104E8B" stroke-width="2.2" stroke-dasharray="7,7"/>
<g fill="#FF0000"><path d="M199,963 l4,4.5 l-4,4.5 l-4,-4.5 z"/><path d="M247.4,974.4 l4,4.5 l-4,4.5 l-4,-4.5 z"/></g>
<g fill="#0000FF"><path d="M211.1,1053.1 l3.5,4.5 l-3.5,4.5 l-3.5,-4.5 z"/><path d="M397.1,1059.9 l3.5,4.5 l-3.5,4.5 l-3.5,-4.5 z"/><path d="M406.2,1069.8 l3.5,4.5 l-3.5,4.5 l-3.5,-4.5 z"/><path d="M409.3,1069.8 l3.5,4.5 l-3.5,4.5 l-3.5,-4.5 z"/><path d="M452.3,1054.7 l3.5,4.5 l-3.5,4.5 l-3.5,-4.5 z"/></g>
</g>
<text x="102.8" y="927.3" font-size="17" textLength="162" lengthAdjust="spacingAndGlyphs">Daily Min/Max Temps</text>
<text x="106.7" y="1041.7" font-size="17" fill="#104E8B" textLength="199.8" lengthAdjust="spacingAndGlyphs">Freeze Days: 95 (Avg:129)</text>
<text x="1176.5" y="927.3" font-size="17" fill="#FF0000">2</text>
<text x="1176.5" y="1084" font-size="17" fill="#0000FF">5</text>
<rect x="87.8" y="909.8" width="1106.2" height="191.7" fill="none" stroke="#000" stroke-width="2.2"/>
<g stroke="#333" stroke-width="1.1">
<line x1="82" y1="1077.2" x2="87.8" y2="1077.2"/><line x1="82" y1="1035.6" x2="87.8" y2="1035.6"/><line x1="82" y1="994" x2="87.8" y2="994"/><line x1="82" y1="952.4" x2="87.8" y2="952.4"/><line x1="82" y1="910.8" x2="87.8" y2="910.8"/>
<line x1="87.8" y1="1101.5" x2="87.8" y2="1108"/><line x1="181.5" y1="1101.5" x2="181.5" y2="1108"/><line x1="272.8" y1="1101.5" x2="272.8" y2="1108"/><line x1="367.2" y1="1101.5" x2="367.2" y2="1108"/><line x1="461.5" y1="1101.5" x2="461.5" y2="1108"/><line x1="546.8" y1="1101.5" x2="546.8" y2="1108"/><line x1="641.2" y1="1101.5" x2="641.2" y2="1108"/><line x1="732.3" y1="1101.5" x2="732.3" y2="1108"/><line x1="826.5" y1="1101.5" x2="826.5" y2="1108"/><line x1="917.9" y1="1101.5" x2="917.9" y2="1108"/><line x1="1012.4" y1="1101.5" x2="1012.4" y2="1108"/><line x1="1106.7" y1="1101.5" x2="1106.7" y2="1108"/>
</g>
<g font-size="16" fill="#4D4D4D" text-anchor="end">
<text x="76" y="1082.9">0</text><text x="76" y="1041.3">25</text><text x="76" y="999.7">50</text><text x="76" y="958.1">75</text><text x="76" y="916.5">100</text>
</g>
<g font-size="16.5" fill="#4D4D4D" text-anchor="middle">
<text x="87.8" y="1125.2">Oct</text><text x="181.5" y="1125.2">Nov</text><text x="272.8" y="1125.2">Dec</text><text x="367.2" y="1125.2">Jan</text><text x="461.5" y="1125.2">Feb</text><text x="546.8" y="1125.2">Mar</text><text x="641.2" y="1125.2">Apr</text><text x="732.3" y="1125.2">May</text><text x="826.5" y="1125.2">Jun</text><text x="917.9" y="1125.2">Jul</text><text x="1012.4" y="1125.2">Aug</text><text x="1106.7" y="1125.2">Sep</text>
</g>
<text transform="translate(28,1006) rotate(-90)" font-size="20" text-anchor="middle" textLength="53" lengthAdjust="spacingAndGlyphs">deg F</text>

<!-- ================= Right side ================= -->
<rect x="1222.6" y="79.1" width="334.4" height="230.7" fill="#fff" stroke="#333" stroke-width="1"/>
<text x="1238" y="112.5" font-size="19.5" font-weight="bold" textLength="68.4" lengthAdjust="spacingAndGlyphs">HEBER</text>
<g font-size="19.5" style="white-space:pre">
<text x="1238" y="148.6" textLength="164.7" lengthAdjust="spacingAndGlyphs">Elevation (ft): 7640</text>
<text x="1238" y="175.4" textLength="245.3" lengthAdjust="spacingAndGlyphs">Period of record: 1991-2020</text>
<text x="1238" y="201.6" textLength="164.7" lengthAdjust="spacingAndGlyphs">Years in record: 30</text>
<text x="1238" y="227.9" textLength="209.6" lengthAdjust="spacingAndGlyphs" xml:space="preserve">Precip rank:  (1-wettest)</text>
<text x="1238" y="254.3" textLength="213.5" lengthAdjust="spacingAndGlyphs" xml:space="preserve">Temp rank:  (1-warmest)</text>
<text x="1238" y="280.5" textLength="158.9" lengthAdjust="spacingAndGlyphs">Missing in 2013: 0</text>
<text x="1238" y="306.3" textLength="267.1" lengthAdjust="spacingAndGlyphs">Total snow (in): 0 (NaN % avg)</text>
</g>

<!-- map -->
<g clip-path="url(#cMap)">
<rect x="1319.8" y="331.3" width="136.9" height="72.6" fill="#D3D3D3"/>
<path d="M1319.8,383.6 L1327.2,384.9 L1365.3,396.8 L1396.1,396.8 L1396.1,392.5 L1411.2,392 L1416,394.4 L1425.5,403.9 L1319.8,403.9 Z" fill="#fff"/>
<g clip-path="url(#cMex)" stroke="#EBEBEB" stroke-width="0.8">
<line x1="1326" y1="380" x2="1326" y2="404"/><line x1="1338.7" y1="380" x2="1338.7" y2="404"/><line x1="1351.8" y1="380" x2="1351.8" y2="404"/><line x1="1364.5" y1="380" x2="1364.5" y2="404"/><line x1="1377.1" y1="380" x2="1377.1" y2="404"/><line x1="1389.8" y1="380" x2="1389.8" y2="404"/><line x1="1402.5" y1="380" x2="1402.5" y2="404"/><line x1="1415.2" y1="380" x2="1415.2" y2="404"/>
<line x1="1319" y1="390.4" x2="1430" y2="390.4"/><line x1="1319" y1="400.7" x2="1430" y2="400.7"/>
</g>
<g fill="none" stroke="#BEBEBE" stroke-width="1.3">
<path d="M1336,338.9 H1457"/>
<path d="M1336,331.3 V347.7 L1332,348.4 L1328.8,348.4 L1331.2,365.9 L1335.2,367.5 L1330,372 L1329.6,380.1 L1332,383.3 L1327.2,384.9"/>
<path d="M1319.8,351.6 L1331.2,359.5"/>
<path d="M1319.8,383.6 L1327.2,384.9 L1365.3,396.8 L1396.1,396.8 L1396.1,392.5 L1411.2,392 L1416,394.4 L1425.5,403.9"/>
<path d="M1387,331.3 V396.8"/>
<path d="M1447.6,338.9 V390.9 H1411.2"/>
<path d="M1447.6,343.7 H1457"/>
</g>
<circle cx="1369.2" cy="367" r="3.5" fill="#FF0000"/>
</g>
<rect x="1319.8" y="331.3" width="136.9" height="72.6" fill="none" stroke="#333" stroke-width="0.8"/>

<!-- Precip bar -->
<rect x="1243.7" y="423.4" width="71.4" height="119.4" fill="#fff" stroke="#000" stroke-width="2.2"/>
<rect x="1245.6" y="476.2" width="67.7" height="66" fill="#1E90FF" stroke="#000" stroke-width="2.2"/>
<line x1="1244.5" y1="482.8" x2="1314.5" y2="482.8" stroke="#FF0000" stroke-width="1.5"/>
<text x="1279.4" y="440.2" font-size="17" text-anchor="middle">32.2 in</text>
<text x="1279.4" y="566.8" font-size="17.5" text-anchor="middle">Precip</text>
<g stroke="#333" stroke-width="1.1">
<line x1="1238" y1="439.1" x2="1243.7" y2="439.1"/><line x1="1238" y1="459.9" x2="1243.7" y2="459.9"/><line x1="1238" y1="480.6" x2="1243.7" y2="480.6"/><line x1="1238" y1="501.3" x2="1243.7" y2="501.3"/><line x1="1238" y1="522.1" x2="1243.7" y2="522.1"/><line x1="1238" y1="543" x2="1243.7" y2="543"/>
</g>
<g font-size="13.5" font-weight="bold" fill="#4D4D4D" text-anchor="end">
<text x="1234" y="443.9">50</text><text x="1234" y="464.7">40</text><text x="1234" y="485.4">30</text><text x="1234" y="506.1">20</text><text x="1234" y="526.9">10</text><text x="1234" y="547.8">0</text>
</g>

<!-- Rain days -->
<rect x="1372.3" y="423.4" width="63.3" height="119.4" fill="#fff" stroke="#000" stroke-width="2.2"/>
<rect x="1373.8" y="489.3" width="60.3" height="53" fill="#00FF00" stroke="#000" stroke-width="2.2"/>
<line x1="1373" y1="482.8" x2="1435" y2="482.8" stroke="#FF0000" stroke-width="1.5"/>
<text x="1403.8" y="440.2" font-size="17" text-anchor="middle">67 days</text>
<text x="1403.8" y="566.8" font-size="17.5" text-anchor="middle">Rain days</text>
<g stroke="#333" stroke-width="1.1">
<line x1="1366.5" y1="422.8" x2="1372.3" y2="422.8"/><line x1="1366.5" y1="462.7" x2="1372.3" y2="462.7"/><line x1="1366.5" y1="502.9" x2="1372.3" y2="502.9"/><line x1="1366.5" y1="543" x2="1372.3" y2="543"/>
</g>
<g font-size="13.5" font-weight="bold" fill="#4D4D4D" text-anchor="end">
<text x="1362" y="427.6">150</text><text x="1362" y="467.5">100</text><text x="1362" y="507.7">50</text><text x="1362" y="547.8">0</text>
</g>

<!-- Intensity -->
<rect x="1488.3" y="423.4" width="68.2" height="119.4" fill="#fff" stroke="#000" stroke-width="2.2"/>
<rect x="1489.8" y="468" width="65.2" height="74.3" fill="#FFFF00" stroke="#000" stroke-width="2.2"/>
<line x1="1489" y1="482.8" x2="1556" y2="482.8" stroke="#FF0000" stroke-width="1.5"/>
<text x="1520.1" y="445.7" font-size="17" text-anchor="middle">0.48</text>
<text x="1522" y="470.8" font-size="17" text-anchor="middle">in/day</text>
<text x="1522.4" y="566.8" font-size="17.5" text-anchor="middle">Intensity</text>
<g stroke="#333" stroke-width="1.1">
<line x1="1482.5" y1="449.6" x2="1488.3" y2="449.6"/><line x1="1482.5" y1="481" x2="1488.3" y2="481"/><line x1="1482.5" y1="512.2" x2="1488.3" y2="512.2"/><line x1="1482.5" y1="543" x2="1488.3" y2="543"/>
</g>
<g font-size="13.5" font-weight="bold" fill="#4D4D4D" text-anchor="end">
<text x="1478.2" y="454.4">0.6</text><text x="1478.2" y="485.8">0.4</text><text x="1478.2" y="517">0.2</text><text x="1478.2" y="547.8">0.0</text>
</g>

<!-- Precip Events -->
<text x="1399.9" y="603.9" font-size="15.6" text-anchor="middle">Precip Events (days)</text>
<rect x="1243.7" y="619.2" width="312.8" height="98.8" fill="#fff"/>
<g stroke="#F2F2F2" stroke-width="0.8">
<line x1="1243.7" y1="705.2" x2="1556.5" y2="705.2"/><line x1="1243.7" y1="688.4" x2="1556.5" y2="688.4"/><line x1="1243.7" y1="671.6" x2="1556.5" y2="671.6"/><line x1="1243.7" y1="654.8" x2="1556.5" y2="654.8"/><line x1="1243.7" y1="638" x2="1556.5" y2="638"/><line x1="1243.7" y1="621.2" x2="1556.5" y2="621.2"/>
</g>
<g stroke="#EBEBEB" stroke-width="1.4">
<line x1="1243.7" y1="713.6" x2="1556.5" y2="713.6"/><line x1="1243.7" y1="696.8" x2="1556.5" y2="696.8"/><line x1="1243.7" y1="680" x2="1556.5" y2="680"/><line x1="1243.7" y1="663.2" x2="1556.5" y2="663.2"/><line x1="1243.7" y1="646.4" x2="1556.5" y2="646.4"/><line x1="1243.7" y1="629.6" x2="1556.5" y2="629.6"/>
<line x1="1301.8" y1="619.2" x2="1301.8" y2="718"/><line x1="1399.9" y1="619.2" x2="1399.9" y2="718"/><line x1="1498.2" y1="619.2" x2="1498.2" y2="718"/>
</g>
<rect x="1257.6" y="622.9" width="88.6" height="90.7" fill="#00BFFF" stroke="#000" stroke-width="2"/>
<rect x="1355.9" y="666.6" width="88.2" height="47" fill="#00B2EE" stroke="#000" stroke-width="2"/>
<rect x="1453.8" y="626.2" width="88.2" height="87.4" fill="#009ACD" stroke="#000" stroke-width="2"/>
<g font-size="16" text-anchor="middle">
<text x="1301.3" y="641">&lt;0.1</text><text x="1399.9" y="684.6">0.1-0.4</text><text x="1498.2" y="644.7">&gt;0.4</text>
</g>
<rect x="1243.7" y="619.2" width="312.8" height="98.8" fill="none" stroke="#333" stroke-width="1"/>
<g stroke="#333" stroke-width="1.1">
<line x1="1238" y1="713.6" x2="1243.7" y2="713.6"/><line x1="1238" y1="696.8" x2="1243.7" y2="696.8"/><line x1="1238" y1="680" x2="1243.7" y2="680"/><line x1="1238" y1="663.2" x2="1243.7" y2="663.2"/><line x1="1238" y1="646.4" x2="1243.7" y2="646.4"/><line x1="1238" y1="629.6" x2="1243.7" y2="629.6"/>
<line x1="1301.8" y1="718" x2="1301.8" y2="723.5"/><line x1="1399.9" y1="718" x2="1399.9" y2="723.5"/><line x1="1498.2" y1="718" x2="1498.2" y2="723.5"/>
</g>
<g font-size="13.5" font-weight="bold" fill="#4D4D4D" text-anchor="end">
<text x="1234" y="718.4">0</text><text x="1234" y="701.6">5</text><text x="1234" y="684.8">10</text><text x="1234" y="668">15</text><text x="1234" y="651.2">20</text><text x="1234" y="634.4">25</text>
</g>
<g font-size="13.5" font-weight="bold" fill="#4D4D4D" text-anchor="middle">
<text x="1301.8" y="738.1">Light</text><text x="1399.9" y="738.1">Moderate</text><text x="1498.2" y="738.1">Heavy</text>
</g>

<!-- Dry spells -->
<rect x="1222.6" y="763.9" width="334.4" height="100.8" fill="#fff" stroke="#333" stroke-width="1"/>
<text x="1238" y="788.3" font-size="21.5" font-weight="bold" fill="#A52A2A" textLength="107" lengthAdjust="spacingAndGlyphs">Dry Spells</text>
<text x="1238" y="822.1" font-size="20" fill="#A52A2A" textLength="258.6" lengthAdjust="spacingAndGlyphs">Avg length: 6 days (avg: 5)</text>
<text x="1238" y="845.3" font-size="20" fill="#A52A2A" textLength="287.9" lengthAdjust="spacingAndGlyphs">Max length: 83 days (avg: 44)</text>

<!-- Temperature bars -->
<rect x="1243.7" y="893.8" width="71.4" height="207.2" fill="#fff" stroke="#000" stroke-width="2.2"/>
<line x1="1244.8" y1="997" x2="1314" y2="997" stroke="#FFA500" stroke-width="1.6"/>
<text x="1279.4" y="913.8" font-size="17" text-anchor="middle">33.7 F</text>
<rect x="1364.2" y="893.8" width="71.4" height="207.2" fill="#fff" stroke="#000" stroke-width="2.2"/>
<line x1="1365.3" y1="997" x2="1434.5" y2="997" stroke="#FFA500" stroke-width="1.6"/>
<text x="1399.9" y="913.8" font-size="17" text-anchor="middle">43.2 F</text>
<rect x="1485.1" y="893.8" width="71.4" height="207.2" fill="#fff" stroke="#000" stroke-width="2.2"/>
<line x1="1486.2" y1="997" x2="1555.4" y2="997" stroke="#FFA500" stroke-width="1.6"/>
<text x="1520.6" y="913.8" font-size="17" text-anchor="middle">52.7 F</text>
<g stroke="#333" stroke-width="1.1">
<line x1="1238" y1="910.9" x2="1243.7" y2="910.9"/><line x1="1238" y1="949.1" x2="1243.7" y2="949.1"/><line x1="1238" y1="986.7" x2="1243.7" y2="986.7"/><line x1="1238" y1="1024.9" x2="1243.7" y2="1024.9"/><line x1="1238" y1="1063.1" x2="1243.7" y2="1063.1"/><line x1="1238" y1="1101" x2="1243.7" y2="1101"/>
<line x1="1358.5" y1="919.7" x2="1364.2" y2="919.7"/><line x1="1358.5" y1="957.9" x2="1364.2" y2="957.9"/><line x1="1358.5" y1="996.1" x2="1364.2" y2="996.1"/><line x1="1358.5" y1="1033.7" x2="1364.2" y2="1033.7"/><line x1="1358.5" y1="1071.6" x2="1364.2" y2="1071.6"/>
<line x1="1479.4" y1="928" x2="1485.1" y2="928"/><line x1="1479.4" y1="965.8" x2="1485.1" y2="965.8"/><line x1="1479.4" y1="1004" x2="1485.1" y2="1004"/><line x1="1479.4" y1="1041.7" x2="1485.1" y2="1041.7"/><line x1="1479.4" y1="1079.9" x2="1485.1" y2="1079.9"/>
</g>
<g font-size="13.5" font-weight="bold" fill="#4D4D4D" text-anchor="end">
<text x="1232.7" y="915.7">44</text><text x="1232.7" y="953.9">42</text><text x="1232.7" y="991.5">40</text><text x="1232.7" y="1029.7">38</text><text x="1232.7" y="1067.9">36</text><text x="1232.7" y="1105.8">34</text>
<text x="1353.1" y="924.5">54</text><text x="1353.1" y="962.7">52</text><text x="1353.1" y="1000.9">50</text><text x="1353.1" y="1038.5">48</text><text x="1353.1" y="1076.4">46</text>
<text x="1474" y="932.8">64</text><text x="1474" y="970.6">62</text><text x="1474" y="1008.8">60</text><text x="1474" y="1046.5">58</text><text x="1474" y="1084.7">56</text>
</g>
<g font-size="17" text-anchor="middle">
<text x="1279.4" y="1125.4">T-min</text><text x="1399.9" y="1125.4">T-mean</text><text x="1520.6" y="1125.4">T-max</text>
</g>
<g font-size="14.5">
<text x="1302.5" y="1148.1" textLength="237.2" lengthAdjust="spacingAndGlyphs">Data from http://www.rcc-acis.org/</text>
<text x="1302.5" y="1162.8" textLength="172.7" lengthAdjust="spacingAndGlyphs">Plot created: 02-18-2021</text>
<text x="1302.5" y="1177.5" textLength="175.7" lengthAdjust="spacingAndGlyphs">The University of Arizona</text>
<text x="1302.5" y="1192.2" textLength="223.4" lengthAdjust="spacingAndGlyphs">https://cals.arizona.edu/climate/</text>
</g>

<!-- ================= Logos ================= -->
<!-- CLIMAS -->
<path d="M96,1134.5 L153.5,1134 C152,1150 144,1165 128,1174 C116,1179 104,1177 101,1166 C99,1156 98,1145 96,1134.5 Z" fill="#6E3B0E"/>
<circle cx="116" cy="1155" r="15" fill="none" stroke="#8DAA4B" stroke-width="7"/>
<path d="M124,1146 A9,9 0 1 0 124,1160" fill="none" stroke="#E8762B" stroke-width="5.5"/>
<path d="M82,1152 C88,1146 104,1146 112,1149 C100,1150 90,1154 88,1158 C86,1162 92,1165 104,1165" fill="none" stroke="#F6C331" stroke-width="3"/>
<ellipse cx="130" cy="1153" rx="8" ry="5" fill="#fff"/><ellipse cx="124" cy="1155" rx="6" ry="4" fill="#fff"/>
<g stroke="#B7C98A" stroke-width="0.9"><line x1="112" y1="1156" x2="150" y2="1156"/><line x1="112" y1="1158.5" x2="150" y2="1158.5"/></g>
<circle cx="151" cy="1155.5" r="2" fill="none" stroke="#8DAA4B" stroke-width="0.9"/><circle cx="152" cy="1160" r="2" fill="none" stroke="#8DAA4B" stroke-width="0.9"/>
<g fill="#fff"><circle cx="108" cy="1161" r="0.9"/><circle cx="111" cy="1161" r="0.9"/><circle cx="114" cy="1161" r="0.9"/><circle cx="106" cy="1164" r="0.9"/><circle cx="109" cy="1164" r="0.9"/><circle cx="112" cy="1164" r="0.9"/><circle cx="105" cy="1167" r="0.9"/><circle cx="108" cy="1167" r="0.9"/></g>
<text x="80.8" y="1196.6" font-family="'Liberation Serif', 'Times New Roman', serif" font-size="22" font-weight="bold" fill="#6E3B0E" textLength="73.6" lengthAdjust="spacingAndGlyphs">CLIMAS</text>
<text x="81" y="1201.8" font-size="4.6" fill="#8DAA4B" textLength="73" lengthAdjust="spacingAndGlyphs">Climate Assessment for the Southwest</text>
<text x="108" y="1206.4" font-size="3.6" fill="#E8762B" textLength="46" lengthAdjust="spacingAndGlyphs">A NOAA RISA TEAM</text>

<!-- CSAP -->
<path d="M170,1172 C164,1172 165,1160 172,1158 C170,1150 180,1146 187,1149 C190,1138 204,1134 212,1140 C218,1133 232,1136 234,1146 C244,1147 247,1160 241,1165 C242,1170 240,1172 236,1172 Z" fill="url(#cloudG)" stroke="#7A7A7A" stroke-width="1.6"/>
<text x="177.4" y="1166.5" font-size="17.5" font-weight="bold" fill="#0B2265" textLength="52.2" lengthAdjust="spacingAndGlyphs">CSAP</text>
<g stroke="#1E56E0" stroke-width="0.9">
<line x1="172" y1="1174" x2="172" y2="1194"/><line x1="175.5" y1="1174" x2="175.5" y2="1194"/><line x1="179" y1="1174" x2="179" y2="1194"/><line x1="182.5" y1="1174" x2="182.5" y2="1194"/><line x1="186" y1="1174" x2="186" y2="1186"/><line x1="189.5" y1="1174" x2="189.5" y2="1182"/>
</g>
<path d="M167.5,1173.5 V1191 Q167.5,1194.5 171,1194.5 H245" fill="none" stroke="#222" stroke-width="1.1"/>
<polygon points="187.5,1194 198.3,1179.2 203.5,1188 208.9,1184.9 218.5,1194" fill="#6B1A5C" stroke="#2E7D1F" stroke-width="0.9"/>
<text x="202" y="1183.5" font-size="8" fill="#999" text-anchor="middle">*</text>
<path d="M219.5,1174 A4.5,4.5 0 0 0 228.5,1174" fill="none" stroke="#F5C400" stroke-width="1.6"/>
<rect x="229.6" y="1182.5" width="1.6" height="10" fill="#3CB22F"/><rect x="227.5" y="1185" width="1.2" height="4" fill="#3CB22F"/><rect x="232" y="1184" width="1.2" height="4" fill="#3CB22F"/>
<text x="165" y="1204" font-size="6" font-weight="bold" fill="#0B2265" textLength="84" lengthAdjust="spacingAndGlyphs">http://cals.arizona.edu/climate</text>

<!-- UA -->
<polygon points="262,1149.9 296.5,1149.9 296.5,1157 293.8,1157 300.9,1182.5 303.2,1182.5 303.2,1189.5 284.5,1189.5 284.5,1182.5 287,1182.5 285.6,1177.5 274.2,1177.5 272.8,1182.5 275.3,1182.5 275.3,1189.5 257.4,1189.5 257.4,1182.5 259.6,1182.5 266.6,1157 262,1157" fill="#0C234B"/>
<polygon points="271,1153.3 288,1153.3 288,1156 286.6,1156 295,1184 297.4,1184 297.4,1186.5 287.5,1186.5 287.5,1184 289.3,1184 287.2,1175.5 272.5,1175.5 270.5,1184 272.2,1184 272.2,1186.5 262.8,1186.5 262.8,1184 265.3,1184 272.6,1156 271,1156" fill="#fff"/>
<polygon points="274.6,1155.3 284.8,1155.3 293.2,1184.5 288.8,1184.5 286.7,1177 272.9,1177 271,1184.5 266.6,1184.5" fill="#AB0520"/>
<polygon points="279.8,1160 284.6,1172.5 275.2,1172.5" fill="#fff"/>
<text x="306" y="1190" font-size="4" fill="#0C234B">®</text>
<line x1="313.6" y1="1147.6" x2="313.6" y2="1190.5" stroke="#0C234B" stroke-width="1"/>
<text x="324" y="1162" font-size="9.5" fill="#0C234B" textLength="122.8" lengthAdjust="spacingAndGlyphs">THE UNIVERSITY OF ARIZONA</text>
<text x="324" y="1183" font-size="21" fill="#0C234B" textLength="203" lengthAdjust="spacingAndGlyphs">Cooperative Extension</text>
</svg>
</body></html>
